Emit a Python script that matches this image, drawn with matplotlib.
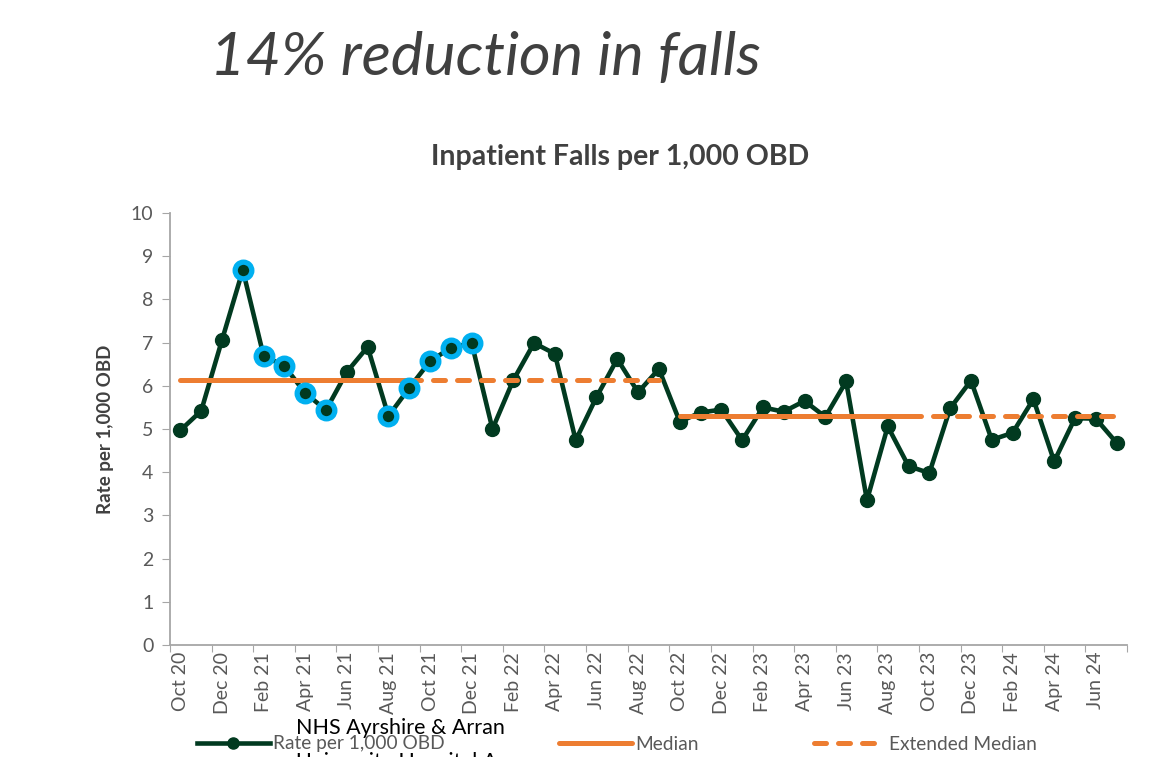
import matplotlib
matplotlib.use("Agg")
import matplotlib.pyplot as plt
from matplotlib.lines import Line2D

# ---------------- data ----------------
months = ["Oct 20", "Nov 20", "Dec 20", "Jan 21", "Feb 21", "Mar 21", "Apr 21", "May 21",
          "Jun 21", "Jul 21", "Aug 21", "Sep 21", "Oct 21", "Nov 21", "Dec 21", "Jan 22",
          "Feb 22", "Mar 22", "Apr 22", "May 22", "Jun 22", "Jul 22", "Aug 22", "Sep 22",
          "Oct 22", "Nov 22", "Dec 22", "Jan 23", "Feb 23", "Mar 23", "Apr 23", "May 23",
          "Jun 23", "Jul 23", "Aug 23", "Sep 23", "Oct 23", "Nov 23", "Dec 23", "Jan 24",
          "Feb 24", "Mar 24", "Apr 24", "May 24", "Jun 24", "Jul 24"]
rate = [4.97, 5.42, 7.06, 8.68, 6.69, 6.46, 5.83, 5.44, 6.32, 6.90, 5.30, 5.95,
        6.57, 6.88, 6.99, 5.00, 6.13, 6.99, 6.74, 4.74, 5.74, 6.62, 5.85, 6.39,
        5.17, 5.38, 5.45, 4.74, 5.50, 5.40, 5.65, 5.28, 6.10, 3.35, 5.06, 4.14,
        3.98, 5.48, 6.12, 4.75, 4.91, 5.69, 4.25, 5.25, 5.24, 4.68]
highlighted = ["Jan 21", "Feb 21", "Mar 21", "Apr 21", "May 21",
               "Aug 21", "Sep 21", "Oct 21", "Nov 21", "Dec 21"]
median_values = [6.13, 5.31]
median_start = ["Oct 20", "Oct 22"]     # first month of each median period
median_end = ["Sep 21", "Sep 23"]       # last month used to calculate median
extended_end = ["Sep 22", "Jul 24"]     # last month median is extended to

# ---------------- style ----------------
GREEN = "#013A20"
ORANGE = "#ED7D31"
BLUE = "#00B0F0"
GREY_TXT = "#595959"
SPINE = "#A6A6A6"
FONT = ["Lato", "DejaVu Sans"]
plt.rcParams["font.family"] = FONT

fig = plt.figure(figsize=(11.55, 7.57), dpi=100)
ax = fig.add_axes([170 / 1155, 1 - 645 / 757, 957 / 1155, 432 / 757])

x = list(range(len(months)))
idx = {m: i for i, m in enumerate(months)}

# main series
ax.plot(x, rate, color=GREEN, lw=3.3, marker="o", ms=10, mfc=GREEN, mec=GREEN,
        zorder=3, solid_joinstyle="round")

# medians
for mv, s, e, ee in zip(median_values, median_start, median_end, extended_end):
    xs = list(range(idx[s], idx[e] + 1))
    ax.plot(xs, [mv] * len(xs), color=ORANGE, lw=3.6, solid_capstyle="round", zorder=4)
    xe = list(range(idx[e], idx[ee] + 1))
    ax.plot(xe, [mv] * len(xe), color=ORANGE, lw=3.6, dashes=(2.4, 2.4),
            dash_capstyle="round", zorder=4)

# highlighted points
hx = [idx[m] for m in highlighted]
hy = [rate[i] for i in hx]
ax.plot(hx, hy, ls="none", marker="o", ms=12, mfc=GREEN, mec=BLUE, mew=3.8, zorder=5)

# axes
ax.set_xlim(-0.5, len(months) - 0.5)
ax.set_ylim(0, 10)
ax.set_yticks(range(0, 11))
ax.set_xticks([i - 0.5 for i in range(0, len(months) + 1, 2)])
ax.set_xticks(list(range(0, len(months), 2)), minor=True)
ax.set_xticklabels([])
ax.set_xticklabels([months[i] for i in range(0, len(months), 2)], minor=True,
                   rotation=90, va="top", ha="center", fontsize=14, color=GREY_TXT)
ax.tick_params(axis="x", which="major", length=5, color=SPINE, direction="out")
ax.tick_params(axis="x", which="minor", length=0, pad=5)
ax.tick_params(axis="y", length=6, color=SPINE, direction="out", labelsize=14,
               labelcolor=GREY_TXT, pad=6)
for sp in ["top", "right"]:
    ax.spines[sp].set_visible(False)
for sp in ["left", "bottom"]:
    ax.spines[sp].set_color(SPINE)
    ax.spines[sp].set_linewidth(1.3)

ax.set_ylabel("Rate per 1,000 OBD", fontsize=13.5, fontweight="bold", color="#404040")
ax.yaxis.set_label_coords(-0.058, 0.5)

# titles
fig.text(210 / 1155, 1 - 58 / 757, "14% reduction in falls", fontsize=44, style="italic",
         color="#404040", va="center", ha="left")
fig.text(620 / 1155, 1 - 157 / 757, "Inpatient Falls per 1,000 OBD", fontsize=20.5,
         fontweight="bold", color="#404040", va="center", ha="center")

# legend
handles = [Line2D([], [], color=GREEN, lw=3.3, marker="o", ms=8, mfc=GREEN),
           Line2D([], [], color=ORANGE, lw=3.6, solid_capstyle="round"),
           Line2D([], [], color=ORANGE, lw=3.6, dashes=(2.4, 2.4), dash_capstyle="round")]
labels = ["Rate per 1,000 OBD", "Median", "Extended Median"]
fig.legend(handles, labels, loc="center left", bbox_to_anchor=(197 / 1155, 1 - 744 / 757),
           ncol=3, frameon=False, fontsize=13.8, labelcolor=GREY_TXT, handlelength=3.8,
           handletextpad=0.15, columnspacing=6.0, borderaxespad=0, borderpad=0)

# overlapping organisation text (as in source)
fig.text(296 / 1155, 1 - 728 / 757, "NHS Ayrshire & Arran", fontsize=15.5, color="black",
         va="center", ha="left")
fig.text(296 / 1155, 1 - 762 / 757, "University Hospital Ayr", fontsize=15.5, color="black",
         va="center", ha="left")

fig.savefig("out.png", dpi=100)
